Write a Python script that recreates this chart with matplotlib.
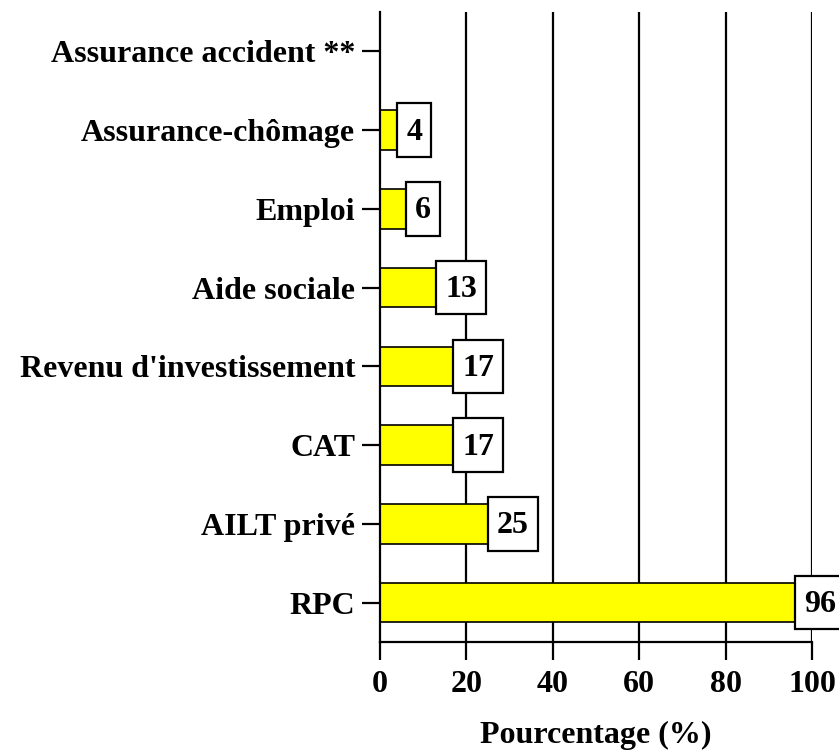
import matplotlib.pyplot as plt
from matplotlib.patches import Rectangle
import numpy as np

# Catégories (de haut en bas) et pourcentages
categories = ['Assurance accident **', 'Assurance-chômage', 'Emploi', 'Aide sociale',
              "Revenu d'investissement", 'CAT', 'AILT privé', 'RPC']
valeurs = [np.nan, 4, 6, 13, 17, 17, 25, 96]
xticks = [0, 20, 40, 60, 80, 100]

plt.rcParams['font.family'] = ['Liberation Serif', 'DejaVu Serif']
plt.rcParams['font.weight'] = 'bold'
fs = 23

fig = plt.figure(figsize=(8.39, 7.5), dpi=100)
ax = fig.add_axes([380 / 839, 1 - 642 / 750, (812 - 380) / 839, (642 - 12) / 750])

# positions : RPC en bas
y = np.arange(len(categories))[::-1]
vals = np.nan_to_num(np.array(valeurs, dtype=float))

# lignes verticales derrière les barres
for xt in xticks[1:]:
    ax.axvline(xt, color='black', linewidth=1.6, zorder=1)

ax.barh(y, vals, height=0.5, color='#ffff00', edgecolor='black', linewidth=1.2, zorder=2)

ax.set_xlim(0, 100)
ax.set_ylim(-0.5, len(categories) - 0.5)

# étiquettes de valeur dans des boîtes blanches
pad_px = 9
textes = []
for yi, v in zip(y, valeurs):
    if np.isnan(v):
        continue
    t = ax.annotate(f'{v:g}', xy=(v, yi), xytext=(pad_px * 0.72, -1.5),
                    textcoords='offset points', ha='left', va='center',
                    fontsize=fs, fontweight='bold', color='black',
                    zorder=4, annotation_clip=False)
    textes.append((t, v, yi))

fig.canvas.draw()
inv = ax.transData.inverted()
for t, v, yi in textes:
    bb = t.get_window_extent()
    x_right = inv.transform((bb.x1 + pad_px, 0))[0]
    ax.add_patch(Rectangle((v, yi - 0.34), x_right - v, 0.68, facecolor='white',
                           edgecolor='black', linewidth=1.6, zorder=3, clip_on=False))

ax.set_xticks(xticks)
ax.set_xticklabels([str(t) for t in xticks], fontsize=fs, fontweight='bold')
ax.set_yticks(y)
ax.set_yticklabels(categories, fontsize=fs, fontweight='bold')
ax.tick_params(axis='both', direction='out', length=13, width=1.6, color='black')
ax.tick_params(axis='y', pad=5)
ax.tick_params(axis='x', pad=7)

for s in ['top', 'right']:
    ax.spines[s].set_visible(False)
for s in ['left', 'bottom']:
    ax.spines[s].set_linewidth(1.6)

ax.set_xlabel('Pourcentage (%)', fontsize=fs, fontweight='bold', labelpad=16)

fig.savefig('out.png', dpi=100)
